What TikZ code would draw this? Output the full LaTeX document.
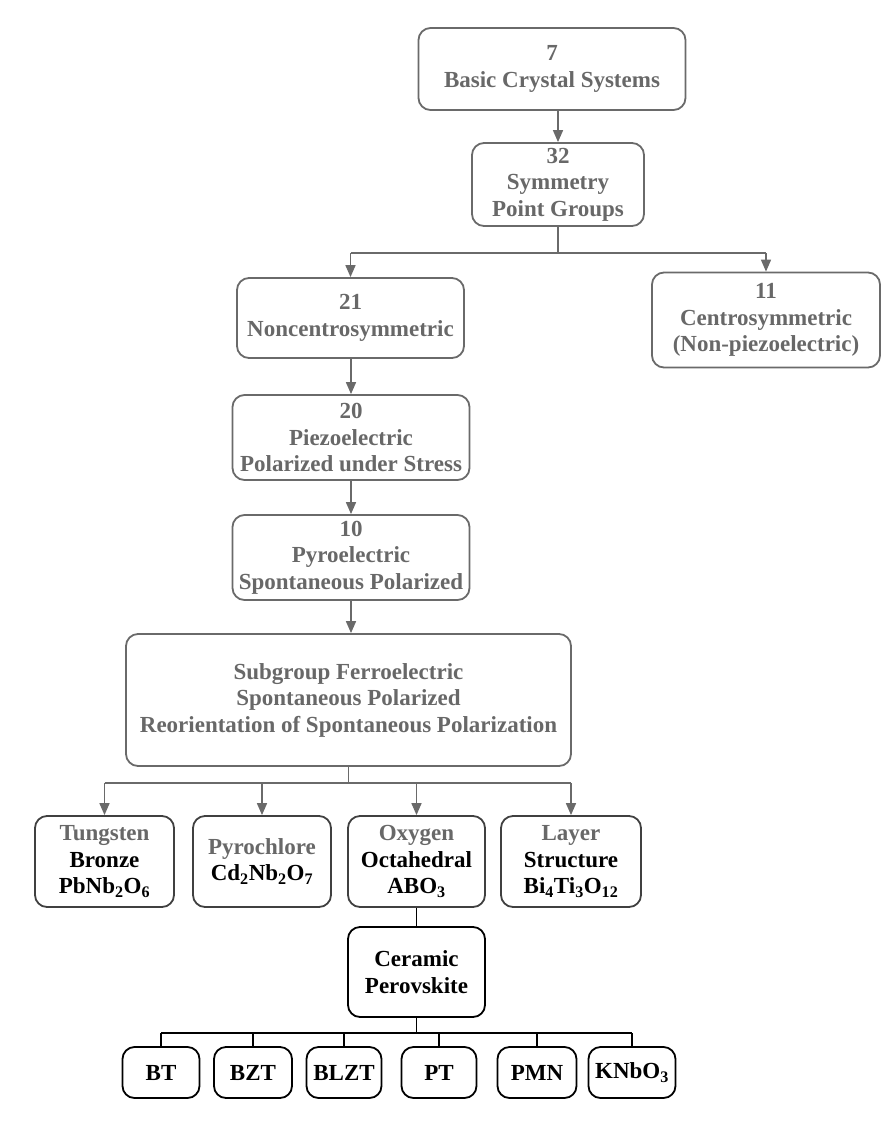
\documentclass[tikz,border=0pt]{standalone}
\usepackage{fontspec}
\setmainfont{Liberation Serif}
\usetikzlibrary{arrows.meta}
\definecolor{gtxt}{HTML}{686868}
\definecolor{gline}{HTML}{6A6A6A}
\begin{document}
\begin{tikzpicture}[x=1pt,y=-1pt,
  every node/.style={font=\bfseries\fontsize{23}{26.5}\selectfont, align=center, inner sep=0pt},
  gbox/.style={draw=gline, text=gtxt, line width=1.8pt, rounded corners=12pt},
  rowbox/.style={draw=black!75, text=black, line width=1.8pt, rounded corners=12pt},
  kbox/.style={draw=black, text=black, line width=1.8pt, rounded corners=12pt},
  garr/.style={draw=gline, line width=1.6pt, -{Triangle[length=12pt,width=10pt]}},
  gln/.style={draw=gline, line width=1.6pt},
  kln/.style={draw=black, line width=1.4pt}
]
\useasboundingbox (0,0) rectangle (885,1144);

% top chain
\node[gbox, minimum width=267pt, minimum height=82pt] (n7) at (552,69) {7\\Basic Crystal Systems};
\node[gbox, minimum width=172pt, minimum height=83pt] (n32) at (558,184.5) {32\\Symmetry\\Point Groups};
\node[gbox, minimum width=227pt, minimum height=80pt] (n21) at (350.5,318) {21\\Noncentrosymmetric};
\node[gbox, minimum width=228pt, minimum height=95pt] (n11) at (766,320) {11\\Centrosymmetric\\(Non-piezoelectric)};
\node[gbox, minimum width=237pt, minimum height=85pt] (n20) at (351,437.5) {20\\Piezoelectric\\Polarized under Stress};
\node[gbox, minimum width=237pt, minimum height=85pt] (n10) at (351,557.5) {10\\Pyroelectric\\Spontaneous Polarized};
\node[gbox, minimum width=445pt, minimum height=132pt] (nf) at (348.5,700) {Subgroup Ferroelectric\\Spontaneous Polarized\\Reorientation of Spontaneous Polarization};

% row of structures
\node[rowbox, minimum width=139pt, minimum height=91pt] (tb) at (104.5,861.5) {\textcolor{gtxt}{Tungsten}\\Bronze\\PbNb\textsubscript{2}O\textsubscript{6}};
\node[rowbox, minimum width=138pt, minimum height=91pt] (py) at (262,861.5) {\textcolor{gtxt}{Pyrochlore}\\Cd\textsubscript{2}Nb\textsubscript{2}O\textsubscript{7}};
\node[rowbox, minimum width=137pt, minimum height=91pt] (ox) at (416.5,861.5) {\textcolor{gtxt}{Oxygen}\\Octahedral\\ABO\textsubscript{3}};
\node[rowbox, minimum width=140pt, minimum height=91pt] (ly) at (571,861.5) {\textcolor{gtxt}{Layer}\\Structure\\Bi\textsubscript{4}Ti\textsubscript{3}O\textsubscript{12}};

\node[kbox, minimum width=137pt, minimum height=90pt] (cp) at (416.5,972) {Ceramic\\Perovskite};

% bottom materials
\node[kbox, minimum width=77pt, minimum height=51pt] (bt) at (161,1072.5) {BT};
\node[kbox, minimum width=78pt, minimum height=51pt] (bzt) at (253,1072.5) {BZT};
\node[kbox, minimum width=75pt, minimum height=51pt] (blzt) at (344,1072.5) {BLZT};
\node[kbox, minimum width=75pt, minimum height=51pt] (pt) at (439,1072.5) {PT};
\node[kbox, minimum width=79pt, minimum height=51pt] (pmn) at (537,1072.5) {PMN};
\node[kbox, minimum width=87pt, minimum height=51pt] (knb) at (632,1072.5) {KNbO\textsubscript{3}};

% connectors
\draw[garr] (n7.south -| n32.north) -- (n32.north);

\coordinate (s1) at (558,253);
\draw[gln] (n32.south) -- (s1);
\draw[gln] (s1 -| n21.north) -- (s1 -| n11.north);
\draw[garr] (s1 -| n21.north) -- (n21.north);
\draw[garr] (s1 -| n11.north) -- (n11.north);

\draw[garr] (n21.south -| n20.north) -- (n20.north);
\draw[garr] (n20.south) -- (n10.north);
\draw[garr] (n10.south) -- (nf.north -| n10.south);

\coordinate (s2) at (348.5,783);
\draw[gln] (nf.south) -- (s2);
\draw[gln] (s2 -| tb.north) -- (s2 -| ly.north);
\draw[garr] (s2 -| tb.north) -- (tb.north);
\draw[garr] (s2 -| py.north) -- (py.north);
\draw[garr] (s2 -| ox.north) -- (ox.north);
\draw[garr] (s2 -| ly.north) -- (ly.north);

\draw[kln] (ox.south) -- (cp.north);

\coordinate (s3) at (416.5,1033);
\draw[kln] (cp.south) -- (s3);
\draw[kln] (s3 -| bt.north) -- (s3 -| knb.north);
\foreach \n in {bt,bzt,blzt,pt,pmn,knb} {
  \draw[kln] (s3 -| \n.north) -- (\n.north);
}
\end{tikzpicture}
\end{document}
